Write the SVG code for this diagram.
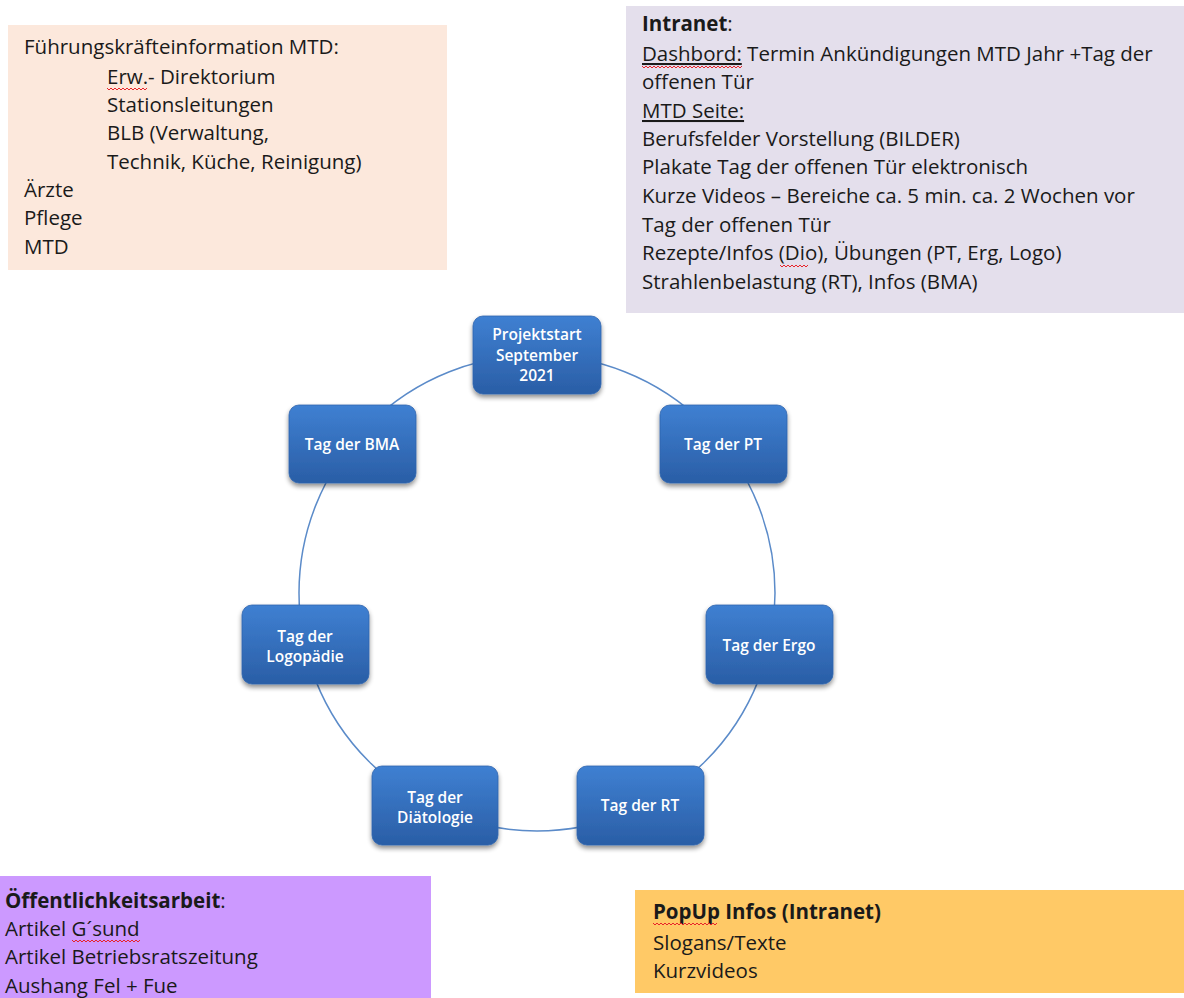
<svg xmlns="http://www.w3.org/2000/svg" width="1184" height="998" viewBox="0 0 1184 998">
<style>
.t{font-family:"Open Sans","Liberation Sans",sans-serif;font-size:20.5px;fill:#1a1a1a}
.b{font-weight:bold}
.u{text-decoration:underline}
.n{font-family:"Open Sans","Liberation Sans",sans-serif;font-size:15.5px;font-weight:600;fill:#fff;text-anchor:middle}
.sq{fill:none;stroke:#e8232a;stroke-width:1}
.nd{fill:url(#g);stroke:#2f64ad;stroke-width:0.8;filter:url(#sh)}
</style>
<defs>
<linearGradient id="g" x1="0" y1="0" x2="0" y2="1">
<stop offset="0" stop-color="#3f80d2"/>
<stop offset="1" stop-color="#2a5ea6"/>
</linearGradient>
<filter id="sh" x="-20%" y="-20%" width="140%" height="150%">
<feGaussianBlur in="SourceAlpha" stdDeviation="2.5"/>
<feOffset dy="3" result="o"/>
<feComponentTransfer><feFuncA type="linear" slope="0.45"/></feComponentTransfer>
<feMerge><feMergeNode/><feMergeNode in="SourceGraphic"/></feMerge>
</filter>
</defs>
<rect width="1184" height="998" fill="#fff"/>

<g id="box-fuehrung">
<rect x="8" y="25" width="439" height="245" fill="#fce8dc"/>
<text class="t" x="24" y="54">Führungskräfteinformation MTD:</text>
<text class="t" x="107" y="84">Erw.- Direktorium</text>
<text class="t" x="107" y="112">Stationsleitungen</text>
<text class="t" x="107" y="140">BLB (Verwaltung,</text>
<text class="t" x="107" y="169">Technik, Küche, Reinigung)</text>
<text class="t" x="24" y="197">Ärzte</text>
<text class="t" x="24" y="225">Pflege</text>
<text class="t" x="24" y="254">MTD</text>
<path class="sq" d="M107,88 l2,2 l2,-2 l2,2 l2,-2 l2,2 l2,-2 l2,2 l2,-2 l2,2 l2,-2 l2,2 l2,-2 l2,2 l2,-2 l2,2 l2,-2 l2,2 l2,-2 l2,2 l2,-2"/>
</g>

<g id="box-intranet">
<rect x="626" y="6" width="558" height="307" fill="#e4dfec"/>
<text class="t" x="642" y="31"><tspan class="b">Intranet</tspan>:</text>
<text class="t" x="642" y="61"><tspan class="u">Dashbord:</tspan> Termin Ankündigungen MTD Jahr +Tag der</text>
<text class="t" x="642" y="89">offenen Tür</text>
<text class="t u" x="642" y="118">MTD Seite:</text>
<text class="t" x="642" y="146">Berufsfelder Vorstellung (BILDER)</text>
<text class="t" x="642" y="174">Plakate Tag der offenen Tür elektronisch</text>
<text class="t" x="642" y="203">Kurze Videos – Bereiche ca. 5 min. ca. 2 Wochen vor</text>
<text class="t" x="642" y="232">Tag der offenen Tür</text>
<text class="t" x="642" y="260">Rezepte/Infos (Dio), Übungen (PT, Erg, Logo)</text>
<text class="t" x="642" y="289">Strahlenbelastung (RT), Infos (BMA)</text>
<path class="sq" d="M642,66 l2,2 l2,-2 l2,2 l2,-2 l2,2 l2,-2 l2,2 l2,-2 l2,2 l2,-2 l2,2 l2,-2 l2,2 l2,-2 l2,2 l2,-2 l2,2 l2,-2 l2,2 l2,-2 l2,2 l2,-2 l2,2 l2,-2 l2,2 l2,-2 l2,2 l2,-2 l2,2 l2,-2 l2,2 l2,-2 l2,2 l2,-2 l2,2 l2,-2 l2,2 l2,-2 l2,2 l2,-2 l2,2 l2,-2 l2,2 l2,-2 l2,2 l2,-2 l2,2 l2,-2 l2,2 l2,-2"/>
<path class="sq" d="M780,265 l2,2 l2,-2 l2,2 l2,-2 l2,2 l2,-2 l2,2 l2,-2 l2,2 l2,-2 l2,2 l2,-2 l2,2 l2,-2"/>
</g>

<g id="box-oeffentlichkeit">
<rect x="0" y="876" width="431" height="122" fill="#cc99ff"/>
<text class="t" x="5" y="908"><tspan class="b">Öffentlichkeitsarbeit</tspan>:</text>
<text class="t" x="5" y="936">Artikel G´sund</text>
<text class="t" x="5" y="964">Artikel Betriebsratszeitung</text>
<text class="t" x="5" y="993">Aushang Fel + Fue</text>
<path class="sq" d="M72,940 l2,2 l2,-2 l2,2 l2,-2 l2,2 l2,-2 l2,2 l2,-2 l2,2 l2,-2 l2,2 l2,-2 l2,2 l2,-2 l2,2 l2,-2 l2,2 l2,-2 l2,2 l2,-2 l2,2 l2,-2 l2,2 l2,-2 l2,2 l2,-2 l2,2 l2,-2 l2,2 l2,-2 l2,2 l2,-2 l2,2 l2,-2"/>
</g>

<g id="box-popup">
<rect x="635" y="890" width="549" height="103" fill="#ffc966"/>
<text class="t b" x="653" y="919">PopUp Infos (Intranet)</text>
<text class="t" x="653" y="950">Slogans/Texte</text>
<text class="t" x="653" y="978">Kurzvideos</text>
<path class="sq" d="M653,923 l2,2 l2,-2 l2,2 l2,-2 l2,2 l2,-2 l2,2 l2,-2 l2,2 l2,-2 l2,2 l2,-2 l2,2 l2,-2 l2,2 l2,-2 l2,2 l2,-2 l2,2 l2,-2 l2,2 l2,-2 l2,2 l2,-2 l2,2 l2,-2 l2,2 l2,-2 l2,2 l2,-2 l2,2 l2,-2"/>
</g>

<g id="connectors">
<circle cx="537" cy="593" r="238" fill="none" stroke="#5b8bc9" stroke-width="1.5"/>
</g>

<g id="node-projektstart">
<rect class="nd" x="473" y="316" width="128" height="78" rx="10"/>
<text class="n" x="537" y="340">Projektstart</text>
<text class="n" x="537" y="361">September</text>
<text class="n" x="537" y="381">2021</text>
</g>
<g id="node-pt">
<rect class="nd" x="660" y="405" width="127" height="78" rx="10"/>
<text class="n" x="723" y="450">Tag der PT</text>
</g>
<g id="node-ergo">
<rect class="nd" x="706" y="605" width="127" height="79" rx="10"/>
<text class="n" x="769" y="651">Tag der Ergo</text>
</g>
<g id="node-rt">
<rect class="nd" x="577" y="766" width="127" height="79" rx="10"/>
<text class="n" x="640" y="811">Tag der RT</text>
</g>
<g id="node-diaetologie">
<rect class="nd" x="372" y="766" width="126" height="79" rx="10"/>
<text class="n" x="435" y="803">Tag der</text>
<text class="n" x="435" y="823">Diätologie</text>
</g>
<g id="node-logopaedie">
<rect class="nd" x="242" y="605" width="127" height="79" rx="10"/>
<text class="n" x="305" y="642">Tag der</text>
<text class="n" x="305" y="662">Logopädie</text>
</g>
<g id="node-bma">
<rect class="nd" x="289" y="405" width="127" height="78" rx="10"/>
<text class="n" x="352" y="450">Tag der BMA</text>
</g>
</svg>
